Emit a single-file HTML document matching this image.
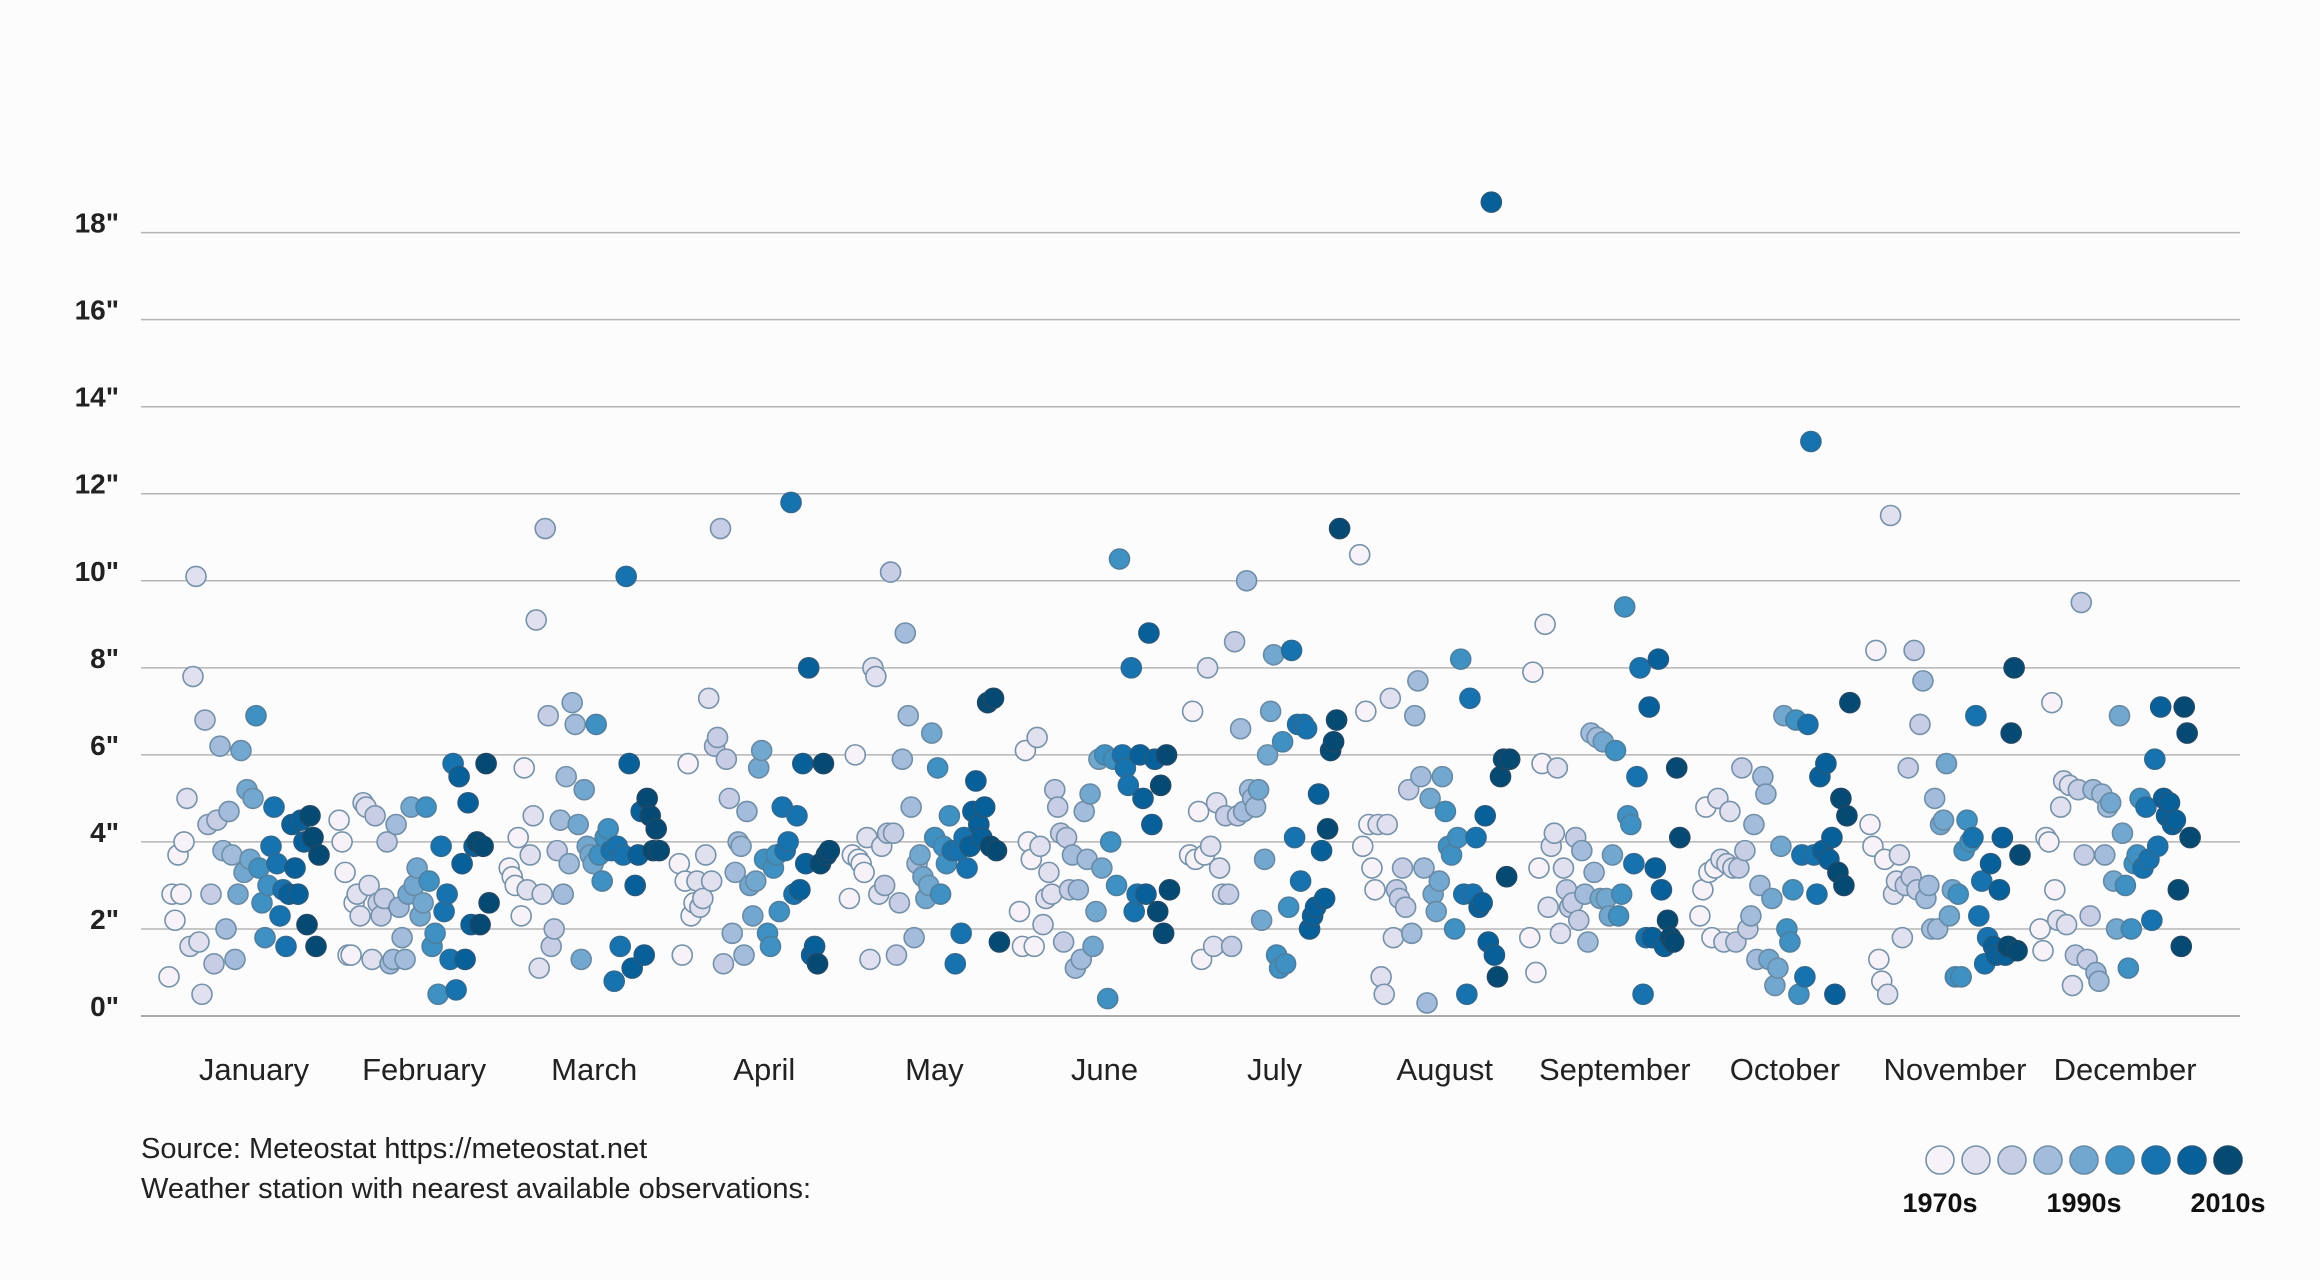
<!DOCTYPE html>
<html><head><meta charset="utf-8">
<style>
html,body{margin:0;padding:0;background:#fdfcfd;}
svg{display:block;}
text{font-family:"Liberation Sans",sans-serif;}
</style></head>
<body>
<svg id="chart" width="2320" height="1280" viewBox="0 0 2320 1280" xmlns="http://www.w3.org/2000/svg">
<rect width="2320" height="1280" fill="#fdfcfd"/>
<g id="grid"></g>
<g id="yticks"></g>
<g id="xticks"></g>
<g id="dots"></g>
<text x="141" y="1158" font-size="29" fill="#222">Source: Meteostat https://meteostat.net</text>
<text x="141" y="1198" font-size="29" fill="#222">Weather station with nearest available observations:</text>
<g id="legend"></g>
</svg>
<script>
const months = ["January","February","March","April","May","June","July","August","September","October","November","December"];
const yTicks = [0,2,4,6,8,10,12,14,16,18];
const legendLabels = ["1970s","1990s","2010s"];
const jan = [0.9,2.8,2.2,3.7,2.8,4.0,5.0,1.6,7.8,10.1,1.7,0.5,6.8,4.4,2.8,1.2,4.5,6.2,3.8,2.0,4.7,3.7,1.3,2.8,6.1,3.3,5.2,3.6,5.0,6.9,3.4,2.6,1.8,3.0,3.9,4.8,3.5,2.3,2.9,1.6,2.8,4.4,3.4,2.8,4.5,4.0,2.1,4.6,4.1,1.6,3.7];
const feb = [4.5,4.0,3.3,1.4,1.4,2.6,2.8,2.3,4.9,4.8,3.0,1.3,4.6,2.6,2.3,2.7,4.0,1.2,1.3,4.4,2.5,1.8,1.3,2.8,4.8,3.0,3.4,2.3,2.6,4.8,3.1,1.6,1.9,0.5,3.9,2.4,2.8,1.3,5.8,0.6,5.5,3.5,1.3,4.9,2.1,3.9,4.0,2.1,3.9,5.8,2.6];
const mar = [3.4,3.2,3.0,4.1,2.3,5.7,2.9,3.7,4.6,9.1,1.1,2.8,11.2,6.9,1.6,2.0,3.8,4.5,2.8,5.5,3.5,7.2,6.7,4.4,1.3,5.2,3.9,3.7,3.5,6.7,3.7,3.1,4.1,4.3,3.8,0.8,3.9,1.6,3.7,10.1,5.8,1.1,3.0,3.7,4.7,1.4,5.0,4.6,3.8,4.3,3.8];
const apr = [3.5,1.4,3.1,5.8,2.3,2.6,3.1,2.5,2.7,3.7,7.3,3.1,6.2,6.4,11.2,1.2,5.9,5.0,1.9,3.3,4.0,3.9,1.4,4.7,3.0,2.3,3.1,5.7,6.1,3.6,1.9,1.6,3.4,3.7,2.4,4.8,3.8,4.0,11.8,2.8,4.6,2.9,5.8,3.5,8.0,1.4,1.6,1.2,3.5,5.8,3.7,3.8];
const may = [2.7,3.7,6.0,3.6,3.5,3.3,4.1,1.3,8.0,7.8,2.8,3.9,3.0,4.2,10.2,4.2,1.4,2.6,5.9,8.8,6.9,4.8,1.8,3.5,3.7,3.2,2.7,3.0,6.5,4.1,5.7,2.8,3.9,3.5,4.6,3.8,1.2,3.8,1.9,4.1,3.4,3.9,4.7,5.4,4.4,4.1,4.8,7.2,3.9,7.3,3.8,1.7];
const jun = [2.4,1.6,6.1,4.0,3.6,1.6,6.4,3.9,2.1,2.7,3.3,2.8,5.2,4.8,4.2,1.7,4.1,2.9,3.7,1.1,2.9,1.3,4.7,3.6,5.1,1.6,2.4,5.9,3.4,6.0,0.4,4.0,5.9,3.0,10.5,6.0,5.7,5.3,8.0,2.4,2.8,6.0,5.0,2.8,8.8,4.4,5.9,2.4,5.3,1.9,6.0,2.9];
const jul = [3.7,7.0,3.6,4.7,1.3,3.7,8.0,3.9,1.6,4.9,3.4,2.8,4.6,2.8,1.6,8.6,4.6,6.6,4.7,10.0,5.2,5.0,4.8,5.2,2.2,3.6,6.0,7.0,8.3,1.4,1.1,6.3,1.2,2.5,8.4,4.1,6.7,3.1,6.7,6.6,2.0,2.3,2.5,5.1,3.8,2.7,4.3,6.1,6.3,6.8,11.2];
const aug = [10.6,3.9,7.0,4.4,3.4,2.9,4.4,0.9,0.5,4.4,7.3,1.8,2.9,2.7,3.4,2.5,5.2,1.9,6.9,7.7,5.5,3.4,0.3,5.0,2.8,2.4,3.1,5.5,4.7,3.9,3.7,2.0,4.1,8.2,2.8,0.5,7.3,2.8,4.1,2.5,2.6,4.6,1.7,18.7,1.4,0.9,5.5,5.9,3.2,5.9];
const sep = [1.8,7.9,1.0,3.4,5.8,9.0,2.5,3.9,4.2,5.7,1.9,3.4,2.9,2.5,2.6,4.1,2.2,3.8,2.8,1.7,6.5,3.3,6.4,2.7,6.3,2.7,2.3,3.7,6.1,2.3,2.8,9.4,4.6,4.4,3.5,5.5,8.0,0.5,1.8,7.1,1.8,3.4,8.2,2.9,1.6,2.2,1.8,1.7,5.7,4.1];
const oct = [2.3,2.9,4.8,3.3,1.8,3.4,5.0,3.6,1.7,3.5,4.7,3.4,1.7,3.4,5.7,3.8,2.0,2.3,4.4,1.3,3.0,5.5,5.1,1.3,2.7,0.7,1.1,3.9,6.9,2.0,1.7,2.9,6.8,0.5,3.7,0.9,6.7,13.2,3.7,2.8,5.5,3.8,5.8,3.6,4.1,0.5,3.3,5.0,3.0,4.6,7.2];
const nov = [4.4,3.9,8.4,1.3,0.8,3.6,0.5,11.5,2.8,3.1,3.7,1.8,3.0,5.7,3.2,8.4,2.9,6.7,7.7,2.7,3.0,2.0,5.0,2.0,4.4,4.5,5.8,2.3,2.9,0.9,2.8,0.9,3.8,4.5,4.0,4.1,6.9,2.3,3.1,1.2,1.8,3.5,1.6,1.4,2.9,4.1,1.4,1.6,6.5,8.0,1.5,3.7];
const dec = [2.0,1.5,4.1,4.0,7.2,2.9,2.2,4.8,5.4,2.1,5.3,0.7,1.4,5.2,9.5,3.7,1.3,2.3,5.2,1.0,0.8,5.1,3.7,4.8,4.9,3.1,2.0,6.9,4.2,3.0,1.1,2.0,3.5,3.7,5.0,3.4,4.8,3.6,2.2,5.9,3.9,7.1,5.0,4.6,4.9,4.4,4.5,2.9,1.6,7.1,6.5,4.1];
const monthValues = [jan,feb,mar,apr,may,jun,jul,aug,sep,oct,nov,dec];

const NS = "http://www.w3.org/2000/svg";
const palette = ["#f6f2f8","#e0e0ee","#c6cde4","#a3bcdb","#72a8d0","#3e91c2","#1673b0","#08609a","#044a72"];
const strokes = ["#7592aa","#7592aa","#7592aa","#6f8fa8","#6a8aa4","#4f7f9e","#2f6a92","#245a80","#1f4866"];
const plotLeft = 141, plotRight = 2240;
function yScale(v){ return 1016 - v * (1016 - 232.6) / 18; }
function monthStart(m){ return 169 + m * 170.1; }
function xScale(m, i, n){ return monthStart(m) + (n > 1 ? i / (n - 1) : 0) * 150; }
function mk(tag, attrs, parent){ const e = document.createElementNS(NS, tag); for (const k in attrs) e.setAttribute(k, attrs[k]); parent.appendChild(e); return e; }

const grid = document.getElementById('grid');
const yt = document.getElementById('yticks');
yTicks.forEach(t => {
  const y = yScale(t);
  const ln = mk('line', {x1: plotLeft, x2: plotRight, y1: y, y2: y, stroke: t === 0 ? '#8e8e8e' : '#b5b5b5', 'stroke-width': 1.5}, grid);
  
  
  const tx = mk('text', {x: 119, y: y, 'text-anchor': 'end', 'font-size': 28, 'font-weight': 'bold', fill: '#222'}, yt);
  tx.textContent = t + '"';
  
  
});

const xt = document.getElementById('xticks');
months.forEach((m, i) => {
  const tx = mk('text', {x: monthStart(i) + 85, y: 1080, 'text-anchor': 'middle', 'font-size': 31, fill: '#222'}, xt);
  tx.textContent = m;
  
  
});

const dots = document.getElementById('dots');
monthValues.forEach((vals, m) => {
  const n = vals.length;
  vals.forEach((v, i) => {
    const shade = Math.min(8, Math.floor(i / n * 9));
    const c = mk('circle', {cx: xScale(m, i, n), cy: yScale(v), r: 10, fill: palette[shade], stroke: strokes[shade], 'stroke-width': 1.6}, dots);
    
    
  });
});

const lg = document.getElementById('legend');
palette.forEach((col, i) => {
  const c = mk('circle', {cx: 1940 + i * 36, cy: 1160, r: 14, fill: col, stroke: strokes[i], 'stroke-width': 1.6}, lg);
  
  
});
legendLabels.forEach((l, i) => {
  const tx = mk('text', {x: 1940 + i * 144, y: 1212, 'text-anchor': 'middle', 'font-size': 27, 'font-weight': 'bold', fill: '#111'}, lg);
  tx.textContent = l;
  
  
});
</script>
</body></html>
